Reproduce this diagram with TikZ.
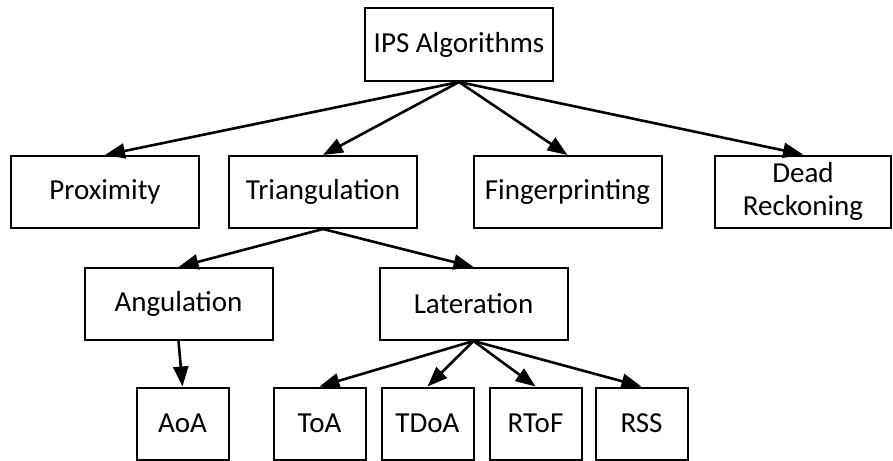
\documentclass[tikz,border=0pt]{standalone}
\usepackage{fontspec}
\setmainfont{Carlito}
\usetikzlibrary{arrows.meta}

\begin{document}
\begin{tikzpicture}[x=1pt,y=-1pt,
    algobox/.style={draw,line width=2pt,minimum height=72pt,align=center,inner sep=0pt,font=\fontsize{29}{33}\selectfont},
    widebox/.style={algobox,minimum width=188pt},
    smallbox/.style={algobox,minimum width=92pt},
    branch/.style={-{Triangle[length=20pt,width=15pt]},line width=2.6pt}]
  \useasboundingbox (0,0) rectangle (893,460);
  % top level
  \node[widebox,minimum height=73pt] (ips) at (459,44.5) {IPS Algorithms};
  % families
  \node[widebox] (prox) at (105,192) {Proximity};
  \node[widebox] (tri) at (323,192) {Triangulation};
  \node[widebox] (fing) at (567.5,192) {Fingerprinting};
  \node[algobox,minimum width=176pt] (dead) at (803,191.5) {Dead\\Reckoning};
  % triangulation split
  \node[widebox] (ang) at (178.5,304) {Angulation};
  \node[widebox] (lat) at (473.5,304) {Lateration};
  % techniques
  \node[smallbox] (aoa) at (182.5,423.5) {AoA};
  \node[smallbox] (toa) at (319.5,423.5) {ToA};
  \node[smallbox] (tdoa) at (427.5,423.5) {TDoA};
  \node[smallbox] (rtof) at (535.5,423.5) {RToF};
  \node[smallbox] (rss) at (641.5,423.5) {RSS};

  \foreach \child in {prox,tri,fing,dead}
    \draw[branch] (ips.south) -- (\child.north);
  \foreach \child in {ang,lat}
    \draw[branch] (tri.south) -- (\child.north);
  \draw[branch] (ang.south) -- (aoa.north);
  \foreach \child in {toa,tdoa,rtof,rss}
    \draw[branch] (lat.south) -- (\child.north);
\end{tikzpicture}
\end{document}
